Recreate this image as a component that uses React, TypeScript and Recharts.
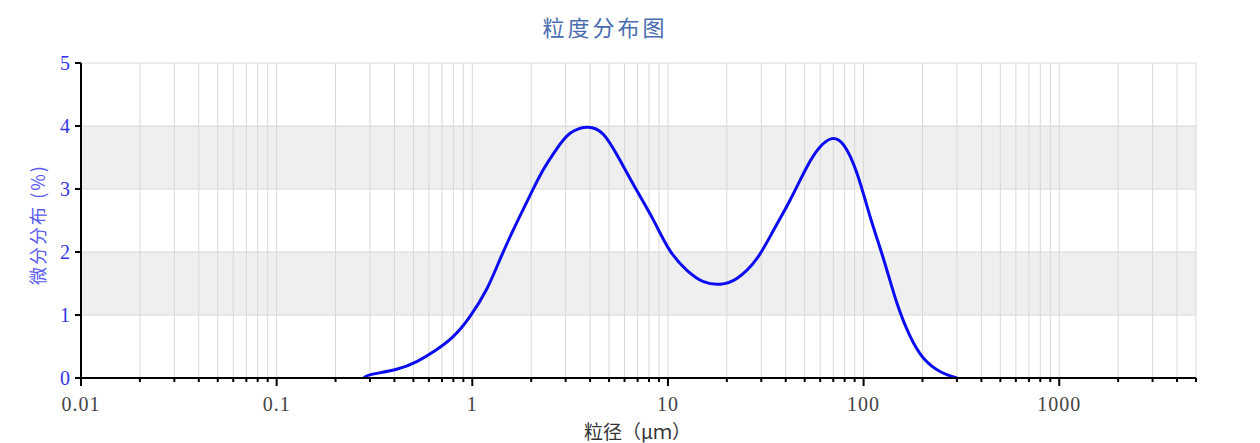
import { LineChart, Line, XAxis, YAxis, CartesianGrid } from "recharts";

// particle size (μm) and differential distribution (%)
const SIZES = [
  0.28, 0.3, 0.41, 0.52, 0.65, 0.8, 0.97, 1.18, 1.38, 1.62, 1.96, 2.3, 2.69,
  3.15, 3.84, 4.67, 5.68, 6.92, 8.42, 10.2, 12.5, 15.2, 18.5, 22.5, 28.4, 34.7,
  42.2, 51.3, 60, 68.9, 79, 92.5, 108, 127, 148, 173, 203, 247, 300,
];
const FREQ = [
  0, 0.05, 0.14, 0.26, 0.44, 0.66, 0.97, 1.4, 1.87, 2.35, 2.88, 3.3, 3.63,
  3.88, 3.98, 3.87, 3.46, 2.98, 2.51, 2.03, 1.71, 1.53, 1.49, 1.58, 1.89, 2.35,
  2.83, 3.35, 3.67, 3.8, 3.7, 3.25, 2.56, 1.87, 1.19, 0.66, 0.31, 0.1, 0,
];

const X_TICKS = [
  0.01, 0.02, 0.03, 0.04, 0.05, 0.06, 0.07, 0.08, 0.09,
  0.1, 0.2, 0.3, 0.4, 0.5, 0.6, 0.7, 0.8, 0.9,
  1, 2, 3, 4, 5, 6, 7, 8, 9,
  10, 20, 30, 40, 50, 60, 70, 80, 90,
  100, 200, 300, 400, 500, 600, 700, 800, 900,
  1000, 2000, 3000, 4000, 5000,
];
const X_MAJOR = [0.01, 0.1, 1, 10, 100, 1000];
const X_MAJOR_LABELS = ["0.01", "0.1", "1", "10", "100", "1000"];
const Y_TICKS = [0, 1, 2, 3, 4, 5];

const data = SIZES.map((s, i) => ({ size: s, freq: FREQ[i] }));

const TICK_SIZE = 8;

function XTick(props: any) {
  const { x, y, payload } = props;
  const idx = X_MAJOR.indexOf(payload.value);
  const axisY = y - TICK_SIZE;
  return (
    <g>
      <line
        x1={x}
        x2={x}
        y1={axisY}
        y2={axisY + (idx >= 0 ? 8 : 4)}
        stroke="#000"
        strokeWidth={2}
      />
      {idx >= 0 && (
        <text
          x={x}
          y={axisY + 33}
          textAnchor="middle"
          fill="#444"
          fontSize={20}
          letterSpacing={1}
          fontFamily="Liberation Serif"
        >
          {X_MAJOR_LABELS[idx]}
        </text>
      )}
    </g>
  );
}

export default function App() {
  return (
    <div style={{ position: "absolute", left: 0, top: 0, width: 1260, height: 443, background: "#fff" }}>
      <div
        style={{
          position: "absolute",
          left: 0,
          top: 11,
          width: 1210,
          textAlign: "center",
          fontFamily: "Noto Sans CJK SC",
          fontSize: 22,
          letterSpacing: 3,
          color: "#4a6db0",
          lineHeight: "30px",
        }}
      >
        粒度分布图
      </div>
      <LineChart
        width={1260}
        height={443}
        data={data}
        margin={{ top: 63, right: 64, bottom: 0, left: 0 }}
      >
        <CartesianGrid
          stroke="#d8d8d8"
          horizontalFill={["none", "#efefef"]}
        />
        <XAxis
          dataKey="size"
          type="number"
          scale="log"
          domain={[0.01, 5000]}
          ticks={X_TICKS}
          interval={0}
          height={65}
          tickSize={TICK_SIZE}
          tickMargin={0}
          tickLine={false}
          axisLine={{ stroke: "#000", strokeWidth: 2 }}
          tick={<XTick />}
          label={(p: any) => {
            const vb = p.viewBox;
            return (
              <text
                x={vb.x + vb.width / 2 - 1}
                y={vb.y + 61}
                textAnchor="middle"
                fill="#333"
                fontSize={19}
                fontFamily="Noto Sans CJK SC"
              >
                粒径（μｍ）
              </text>
            );
          }}
        />
        <YAxis
          type="number"
          domain={[0, 5]}
          ticks={Y_TICKS}
          width={81}
          tickSize={6}
          tickMargin={5}
          tickLine={{ stroke: "#000", strokeWidth: 2 }}
          axisLine={{ stroke: "#000", strokeWidth: 2 }}
          tick={{ fill: "#3434e6", fontSize: 20, fontFamily: "Liberation Serif" }}
          label={(p: any) => {
            const vb = p.viewBox;
            const cx = 37;
            const cy = vb.y + vb.height / 2 + 4;
            return (
              <text
                x={cx}
                y={cy}
                transform={`rotate(-90 ${cx} ${cy})`}
                textAnchor="middle"
                dominantBaseline="central"
                fill="#5a5af0"
                fontSize={18}
                letterSpacing={2}
                fontFamily="Noto Sans CJK SC"
              >
                微分分布 (%)
              </text>
            );
          }}
        />
        <Line
          type="natural"
          dataKey="freq"
          stroke="#0c0cf0"
          strokeWidth={3}
          dot={false}
          isAnimationActive={false}
        />
      </LineChart>
    </div>
  );
}
